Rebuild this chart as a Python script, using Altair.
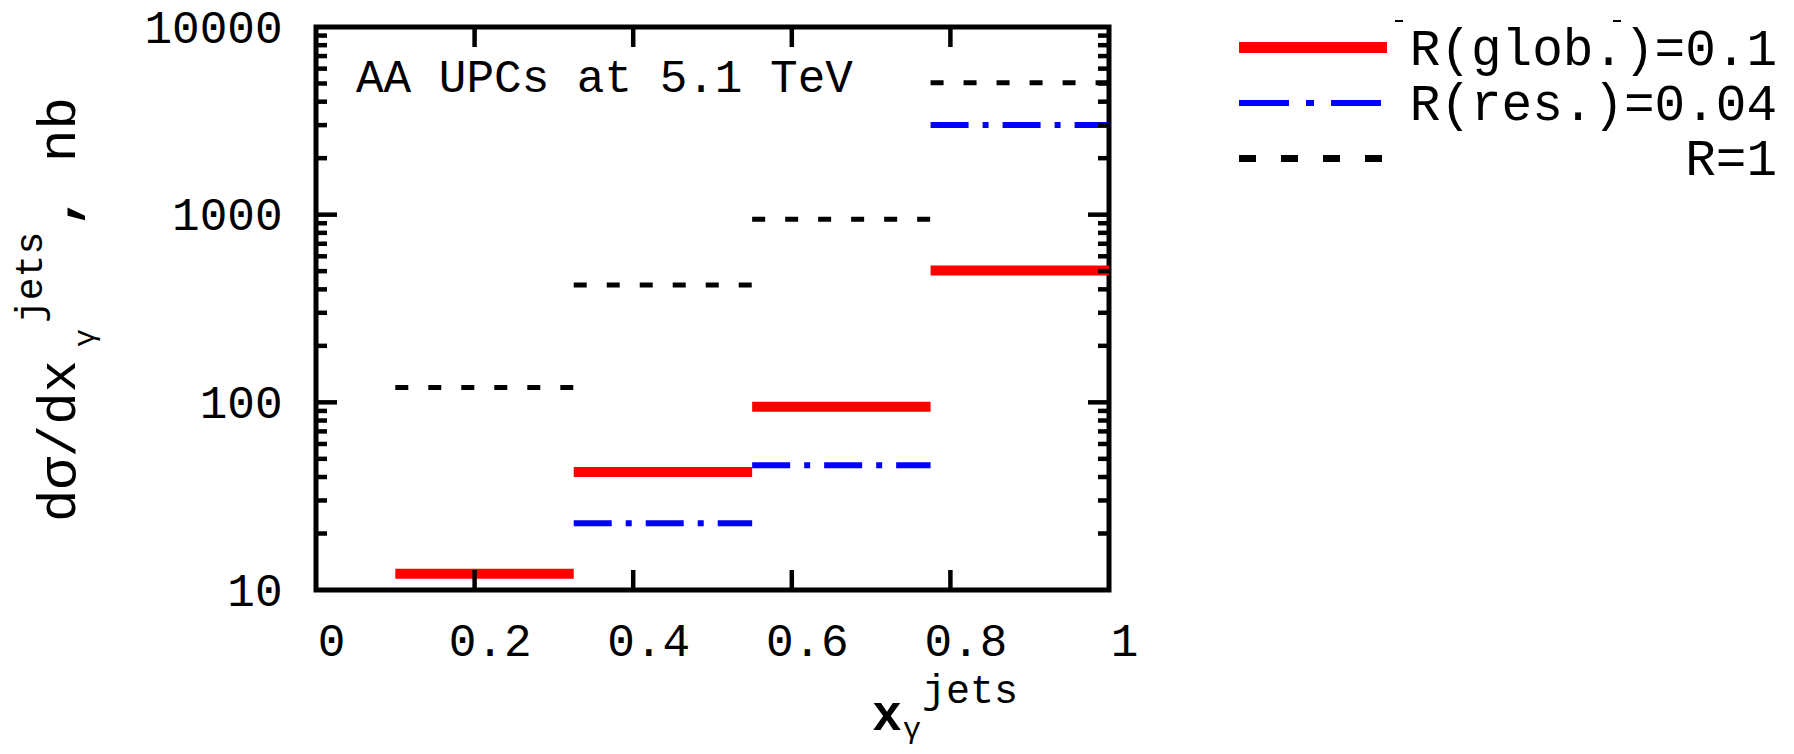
import altair as alt
import pandas as pd

# ---- data ----
bin_lo = [0.1, 0.325, 0.55, 0.775]
bin_hi = [0.325, 0.55, 0.775, 1.0]
red_glob = [12.2, 42.5, 94.8, 504.0]
blue_res = [None, 22.7, 46.2, 3006.0]
black_r1 = [120.0, 422.0, 944.0, 5050.0]

series_labels = ["R(glob.)=0.1", "R(res.)=0.04", "R=1"]
annotation = ["AA UPCs at 5.1 TeV"]

x_tick_values = [0, 0.2, 0.4, 0.6, 0.8, 1]
y_tick_values = [10, 100, 1000, 10000]
x_inner_ticks = [0.2, 0.4, 0.6, 0.8]
y_major_inner = [100, 1000]
y_minor_inner = [20, 30, 40, 50, 60, 70, 80, 90,
                 200, 300, 400, 500, 600, 700, 800, 900,
                 2000, 3000, 4000, 5000, 6000, 7000, 8000, 9000]

W, H = 793, 563
FONT = "Liberation Mono"

x_scale = alt.Scale(domain=[0, 1], nice=False, zero=False)
y_scale = alt.Scale(type="log", domain=[10, 10000], nice=False)
x_axis = alt.Axis(values=x_tick_values, format=".1~f", title=None, ticks=False,
                  tickSize=0, domain=False, grid=False, labelFont=FONT,
                  labelFontSize=46, labelColor="black", labelPadding=65,
                  labelBaseline="alphabetic", labelOffset=15, labelFlush=False,
                  labelOverlap=False, labelBound=False)
y_axis = alt.Axis(values=y_tick_values, format="d", title=None, ticks=False,
                  tickSize=0, domain=False, grid=False, labelFont=FONT,
                  labelFontSize=46, labelColor="black", labelPadding=34,
                  labelBaseline="alphabetic", labelOffset=15,
                  labelOverlap=False, labelBound=False)

dummy = pd.DataFrame({"k": [0]})


def steps(vals, color, width, dash=None):
    df = pd.DataFrame({"lo": bin_lo, "hi": bin_hi, "v": vals}).dropna()
    kw = dict(color=color, strokeWidth=width, strokeCap="butt")
    if dash:
        kw["strokeDash"] = dash
    return alt.Chart(df).mark_rule(**kw).encode(
        x=alt.X("lo:Q", scale=x_scale, axis=x_axis),
        x2="hi:Q",
        y=alt.Y("v:Q", scale=y_scale, axis=y_axis),
    )


def xticks(vals, y0, y1):
    return alt.Chart(pd.DataFrame({"t": vals})).mark_rule(color="black", strokeWidth=4.5).encode(
        x=alt.X("t:Q", scale=x_scale, axis=x_axis), y=alt.value(y0), y2=alt.value(y1))


def yticks(vals, x0, x1):
    return alt.Chart(pd.DataFrame({"t": vals})).mark_rule(color="black", strokeWidth=4.5).encode(
        y=alt.Y("t:Q", scale=y_scale, axis=y_axis), x=alt.value(x0), x2=alt.value(x1))


def label(text, x, y, size, angle=0, align="left", weight="normal"):
    kw = dict(font=FONT, fontSize=size, color="black", align=align,
              baseline="alphabetic", fontWeight=weight)
    if angle:
        kw["angle"] = angle
    return alt.Chart(pd.DataFrame({"s": [text]})).mark_text(**kw).encode(
        text="s:N", x=alt.value(x), y=alt.value(y))


def leg_line(x0, x1, y, color, width, dash=None):
    kw = dict(color=color, strokeWidth=width, strokeCap="butt")
    if dash:
        kw["strokeDash"] = dash
    return alt.Chart(dummy).mark_rule(**kw).encode(
        x=alt.value(x0), x2=alt.value(x1), y=alt.value(y))


layers = [
    steps(black_r1, "black", 5, [13, 20]),
    steps(blue_res, "#0000ff", 6, [38, 14, 6, 14]),
    steps(red_glob, "#ff0000", 10),
    xticks(x_inner_ticks, H, H - 20),
    xticks(x_inner_ticks, 0, 20),
    yticks(y_major_inner, 0, 21),
    yticks(y_major_inner, W, W - 21),
    yticks(y_minor_inner, 0, 11),
    yticks(y_minor_inner, W, W - 11),
    # annotation inside the frame
    label(annotation[0], 40, 65, 46),
    # legend
    leg_line(923, 1071, 20.5, "#ff0000", 11),
    leg_line(923, 1066, 76, "#0000ff", 6, [50, 17, 8, 17]),
    leg_line(923, 1066, 131.5, "black", 7, [17, 25]),
    label(series_labels[0], 1461, 38, 51, align="right"),
    label(series_labels[1], 1461, 93, 51, align="right"),
    label(series_labels[2], 1461, 148, 51, align="right"),
    leg_line(1079, 1087, -6, "black", 2),
    leg_line(1297, 1305, -6, "black", 2),
    # y title pieces (rotated)
    label("dσ/dx", -241, 495, 54, angle=270),
    label("γ", -222, 320, 30, angle=270),
    label("jets", -274, 296, 38, angle=270),
    label(",", -241, 200, 54, angle=270, weight="bold"),
    label("nb", -241, 135, 54, angle=270),
    # x title pieces
    label("x", 556, 703, 50, weight="bold"),
    label("γ", 587, 711, 30),
    label("jets", 606, 676, 40),
]

chart = alt.layer(*layers).properties(
    width=W, height=H,
    autosize=alt.AutoSizeParams(type="none"),
    padding={"left": 308, "top": 19, "right": 677, "bottom": 156},
    background="white",
).configure_view(stroke="black", strokeWidth=5)

chart.save("out.html", embed_options={"renderer": "svg", "actions": False})
